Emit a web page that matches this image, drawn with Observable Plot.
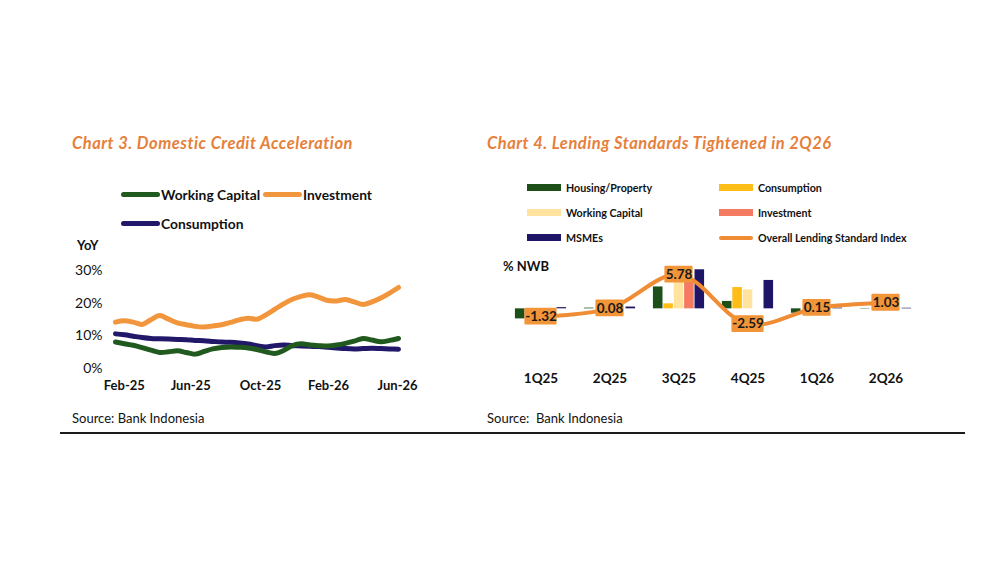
<!DOCTYPE html>
<html><head><meta charset="utf-8">
<script src="https://cdn.jsdelivr.net/npm/d3@7"></script>
<script src="https://cdn.jsdelivr.net/npm/@observablehq/plot@0.6"></script>
<style>
body{margin:0;background:#fff;font-family:Lato,"Open Sans",sans-serif;color:#111;}
#root{position:relative;width:1000px;height:563px;overflow:hidden;background:#fff;}
.abs{position:absolute;white-space:nowrap;}
.title{color:#E6803A;font-weight:700;font-style:italic;font-size:16.5px;letter-spacing:0.5px;}
.lg1{font-weight:700;font-size:13.8px;display:flex;align-items:center;}
.lg1 .sw{display:inline-block;width:39px;height:5px;border-radius:3px;margin-right:1px;}
.lg2{font-weight:700;font-size:10.7px;display:flex;align-items:center;}
.lg2 .sw{display:inline-block;width:34px;height:7px;margin-right:5px;}
.src{font-size:13px;}
.unit{font-weight:700;font-size:13px;}
svg{overflow:visible;}
</style></head>
<body><div id="root"></div>
<script>
// ---------- Chart 3 data (YoY %, read every half month from Feb-25 to Jun-26) ----------
const workingCapital = [8.1,7.6,7.1,6.4,5.6,4.9,5.1,5.4,4.9,4.4,5.2,6.0,6.4,6.6,6.5,6.3,5.8,5.1,4.6,5.5,7.0,7.6,7.2,7.0,6.9,7.2,7.7,8.4,9.2,8.7,8.2,8.6,9.2];
const investment     = [14.2,14.6,14.2,13.5,14.9,16.2,15.1,14.0,13.4,12.9,12.7,13.0,13.4,14.1,14.9,15.4,15.1,16.4,18.1,19.8,21.2,22.1,22.6,21.8,20.8,20.7,21.1,20.4,19.6,20.4,21.6,23.1,24.8];
const consumption    = [10.6,10.3,9.9,9.5,9.2,9.1,9.0,8.9,8.8,8.6,8.5,8.3,8.1,8.0,7.8,7.5,7.0,6.6,7.0,7.2,7.0,6.9,6.8,6.7,6.5,6.3,6.1,6.0,6.1,6.2,6.1,6.0,5.9];
const monthTickPos   = [0.5,4.25,8.2,12.05,15.95];
const monthTickLabels= ["Feb-25","Jun-25","Oct-25","Feb-26","Jun-26"];
const yoyTicks       = [0,10,20,30];

// ---------- Chart 4 data (% NWB) ----------
const quarters       = ["1Q25","2Q25","3Q25","4Q25","1Q26","2Q26"];
const lsHousing      = [-1.7,0.12,3.7,1.25,-0.75,0.06];
const lsConsumption  = [0,0,0.85,3.6,0,0];
const lsWorkingCap   = [0,0,4.4,3.2,0,0];
const lsInvestment   = [0,0,4.7,0,0,0];
const lsMSMEs        = [0.2,0.3,6.6,4.8,0.12,0.1];
const lsOverall      = [-1.32,0.08,5.78,-2.59,0.15,1.03];

const root = document.getElementById("root");
function add(html, cls, left, top){const d=document.createElement("div");d.className="abs "+(cls||"");d.style.left=left+"px";d.style.top=top+"px";d.innerHTML=html;root.appendChild(d);return d;}

// ---------- Chart 3 ----------
add("Chart 3. Domestic Credit Acceleration","title",72,133);
const c3 = [["Working Capital","#215A1F"],["Investment","#F2963D"],["Consumption","#22186A"]];
add(`<span class="sw" style="background:${c3[0][1]}"></span>${c3[0][0]}`,"lg1",121,186);
add(`<span class="sw" style="background:${c3[1][1]}"></span>${c3[1][0]}`,"lg1",263,186);
add(`<span class="sw" style="background:${c3[2][1]}"></span>${c3[2][0]}`,"lg1",121,215);
add("YoY","unit",77,237);

const idx = d3.range(workingCapital.length).map(j => j/2);
const rows3 = (vals, name) => vals.map((v,j)=>({t: idx[j], v, name}));
const p3 = Plot.plot({
  width: 360, height: 148, marginLeft: 55, marginRight: 22, marginTop: 20, marginBottom: 30,
  style: {fontFamily: "Lato, 'Open Sans', sans-serif", background: "transparent", color: "#111"},
  x: {domain: [0,16]},
  y: {domain: [0,30]},
  marks: [
    Plot.axisX({ticks: monthTickPos, tickFormat: d => monthTickLabels[monthTickPos.indexOf(d)], tickSize: 0, tickPadding: 12, fontSize: 13, fontWeight: "bold", label: null}),
    Plot.axisY({ticks: yoyTicks, tickFormat: d => d + "%", tickSize: 0, tickPadding: 13, fontSize: 14, label: null}),
    Plot.line(rows3(investment,"Investment"), {x:"t", y:"v", stroke: c3[1][1], strokeWidth: 5, curve: "catmull-rom", strokeLinecap: "round"}),
    Plot.line(rows3(consumption,"Consumption"), {x:"t", y:"v", stroke: c3[2][1], strokeWidth: 5, curve: "catmull-rom", strokeLinecap: "round"}),
    Plot.line(rows3(workingCapital,"Working Capital"), {x:"t", y:"v", stroke: c3[0][1], strokeWidth: 5, curve: "catmull-rom", strokeLinecap: "round"})
  ]
});
const w3 = add("", "", 60, 250); w3.appendChild(p3);
add("Source: Bank Indonesia","src",72,410);

// ---------- Chart 4 ----------
add("Chart 4. Lending Standards Tightened in 2Q26","title",487,133);
const c4 = [["Housing/Property","#1D4F19"],["Consumption","#FFBE17"],["Working Capital","#FFE39E"],["Investment","#F47A61"],["MSMEs","#1E1566"],["Overall Lending Standard Index","#EF8C34"]];
const lgPos = [[527,181],[719,181],[527,206],[719,206],[527,231],[719,231]];
c4.forEach((c,i)=>{
  const sw = i===5 ? `<span class="sw" style="background:${c[1]};height:4px;border-radius:2px"></span>` : `<span class="sw" style="background:${c[1]}"></span>`;
  add(sw + c[0], "lg2", lgPos[i][0], lgPos[i][1]);
});
add("% NWB","unit",503,258);

const series4 = [lsHousing, lsConsumption, lsWorkingCap, lsInvestment, lsMSMEs];
const W4 = 460, ML4 = 23, MR4 = 18;
const step = (W4 - ML4 - MR4) / quarters.length;
const bw = 10.4;
const rows4 = quarters.map((q,i)=>({q, v: lsOverall[i], bars: series4.map(s=>s[i])}));
const barMarks = series4.map((s,k)=>Plot.barY(rows4, {x: "q", y: d => d.bars[k], fill: c4[k][1], dx: (k-2)*bw, insetLeft: (step-bw)/2, insetRight: (step-bw)/2}));
const boxHalf = 1.42; // label box half height in % NWB units
const negRows = rows4.filter(d => d.v < 0), posRows = rows4.filter(d => d.v >= 0);
const p4 = Plot.plot({
  width: W4, height: 145, marginLeft: ML4, marginRight: MR4, marginTop: 11, marginBottom: 63,
  style: {fontFamily: "Lato, 'Open Sans', sans-serif", background: "transparent", color: "#111"},
  x: {domain: quarters, padding: 0},
  y: {domain: [-4, 8], axis: null},
  marks: [
    Plot.axisX({tickSize: 0, tickPadding: 41, fontSize: 13.5, fontWeight: "bold", label: null}),
    ...barMarks,
    Plot.line(rows4, {x: "q", y: "v", stroke: c4[5][1], strokeWidth: 4, curve: "catmull-rom"}),
    Plot.barY(negRows, {x: "q", y1: d => d.v - boxHalf, y2: d => d.v + boxHalf, fill: "#F29438", insetLeft: (step-33)/2, insetRight: (step-33)/2, rx: 1}),
    Plot.barY(posRows, {x: "q", y1: d => d.v - boxHalf, y2: d => d.v + boxHalf, fill: "#F29438", insetLeft: (step-29)/2, insetRight: (step-29)/2, rx: 1}),
    Plot.text(rows4, {x: "q", y: "v", text: d => d.v.toFixed(2), fontSize: 13.5, fontWeight: "bold", fill: "#1a1a1a"})
  ]
});
const w4 = add("", "", 480, 250); w4.appendChild(p4);
add("Source:&nbsp; Bank Indonesia","src",487,410);

// rule
const hr = add("", "", 60, 432); hr.style.width = "905px"; hr.style.height = "2px"; hr.style.background = "#1b1b1b";
</script>
</body></html>
